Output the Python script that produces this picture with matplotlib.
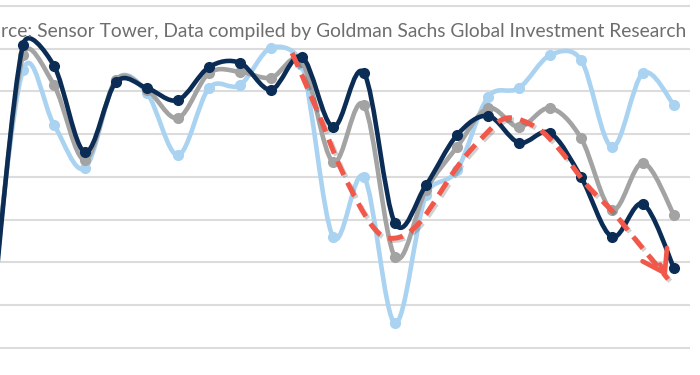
import numpy as np
import matplotlib
matplotlib.use("Agg")
import matplotlib.pyplot as plt
from matplotlib.path import Path
from matplotlib.patches import PathPatch
import matplotlib.patheffects as pe

# ---- data (index positions along the time axis; values in gridline units) ----
periods = list(range(-1, 22))
navy_vals = [0.65, 7.09, 6.60, 4.58, 6.22, 6.08, 5.80, 6.57, 6.67, 6.04, 6.81, 5.17,
             6.43, 2.92, 3.81, 4.98, 5.43, 4.80, 5.03, 4.00, 2.60, 3.37, 1.87]
gray_vals = [0.89, 6.85, 6.15, 4.40, 6.27, 6.04, 5.38, 6.43, 6.46, 6.32, 6.69, 4.35,
             5.68, 2.13, 3.70, 4.70, 5.61, 5.17, 5.61, 4.91, 3.23, 4.33, 3.11]
light_vals = [1.12, 6.50, 5.22, 4.21, 6.27, 5.96, 4.51, 6.08, 6.15, 7.02, 6.62, 2.60,
              4.00, 0.58, 3.58, 4.16, 5.87, 6.08, 6.85, 6.74, 4.70, 6.43, 5.68]

# annotation arrow waypoints (data coords)
arrow_x = [8.68, 9.48, 10.32, 11.29, 12.00, 12.81, 14.00, 14.84, 15.61, 16.58,
           17.32, 18.19, 19.03, 19.90, 20.81]
arrow_y = [6.90, 5.57, 4.09, 2.83, 2.57, 2.95, 4.23, 4.94, 5.38, 5.15,
           4.63, 3.81, 3.18, 2.41, 1.61]

source_text = "rce: Sensor Tower, Data compiled by Goldman Sachs Global Investment Research"

NAVY = "#0B2D55"
GRAY = "#A3A3A3"
LIGHT = "#A9D3F1"
RED = "#F2584A"

XS, YS = 31.0, 42.75  # visual scale of one unit (used only to shape the smoothing)


def smooth_path(xs, ys, clamp=0.5):
    pts = np.column_stack([xs, ys]).astype(float)
    sc = np.array([XS, YS])
    n = len(pts)
    verts = [pts[0]]
    codes = [Path.MOVETO]
    for k in range(n - 1):
        p0 = pts[max(k - 1, 0)]
        p1 = pts[k]
        p2 = pts[k + 1]
        p3 = pts[min(k + 2, n - 1)]
        chord = np.linalg.norm((p2 - p1) * sc)
        d1 = (p2 - p0) / 6.0
        d2 = (p3 - p1) / 6.0
        l1 = np.linalg.norm(d1 * sc)
        l2 = np.linalg.norm(d2 * sc)
        if l1 > clamp * chord and l1 > 0:
            d1 = d1 * clamp * chord / l1
        if l2 > clamp * chord and l2 > 0:
            d2 = d2 * clamp * chord / l2
        verts += [p1 + d1, p2 - d2, p2]
        codes += [Path.CURVE4] * 3
    return Path(verts, codes)


fig = plt.figure(figsize=(7, 3.75), dpi=100)
ax = fig.add_axes([0, 0, 690 / 700, 1])
ax.set_xlim(-0.742, 21.516)
ax.set_ylim(-0.632, 8.14)
ax.set_yticks(range(9))
ax.yaxis.grid(True, color="#DCDCDC", lw=1.5)
ax.set_axisbelow(True)
ax.tick_params(left=False, bottom=False, labelleft=False, labelbottom=False)
for s in ax.spines.values():
    s.set_visible(False)

for vals, col, z in [(light_vals, LIGHT, 2), (gray_vals, GRAY, 3), (navy_vals, NAVY, 4)]:
    ax.add_patch(PathPatch(smooth_path(periods, vals), fill=False, edgecolor=col,
                           lw=3.3, capstyle="round", joinstyle="round", zorder=z))
    ax.plot(periods, vals, linestyle="none", marker="o", ms=7, color=col, zorder=z)

red = PathPatch(smooth_path(arrow_x, arrow_y, clamp=0.6), fill=False, edgecolor=RED,
                lw=3.6, linestyle=(0, (3.0, 1.7)), zorder=6)
red.set_path_effects([pe.SimpleLineShadow(offset=(1.5, -1.5), shadow_color="k", alpha=0.18),
                      pe.Normal()])
ax.add_patch(red)
ax.annotate("", xy=(arrow_x[-1], arrow_y[-1]),
            xytext=(arrow_x[-1] - 0.3, arrow_y[-1] + 0.4),
            arrowprops=dict(arrowstyle="->,head_length=0.75,head_width=0.5",
                            color=RED, lw=3.4, mutation_scale=20), zorder=7)

# source line (left part cut off in the reference)
t = fig.text(1 / 700, 1 - 37 / 375, source_text, ha="left", va="baseline",
             fontsize=14, color="#6E6E6E", family=["Lato", "DejaVu Sans"])
fig.canvas.draw()
w = t.get_window_extent().width
t.set_fontsize(14 * 690 / w)

fig.savefig("out.png", dpi=100)
